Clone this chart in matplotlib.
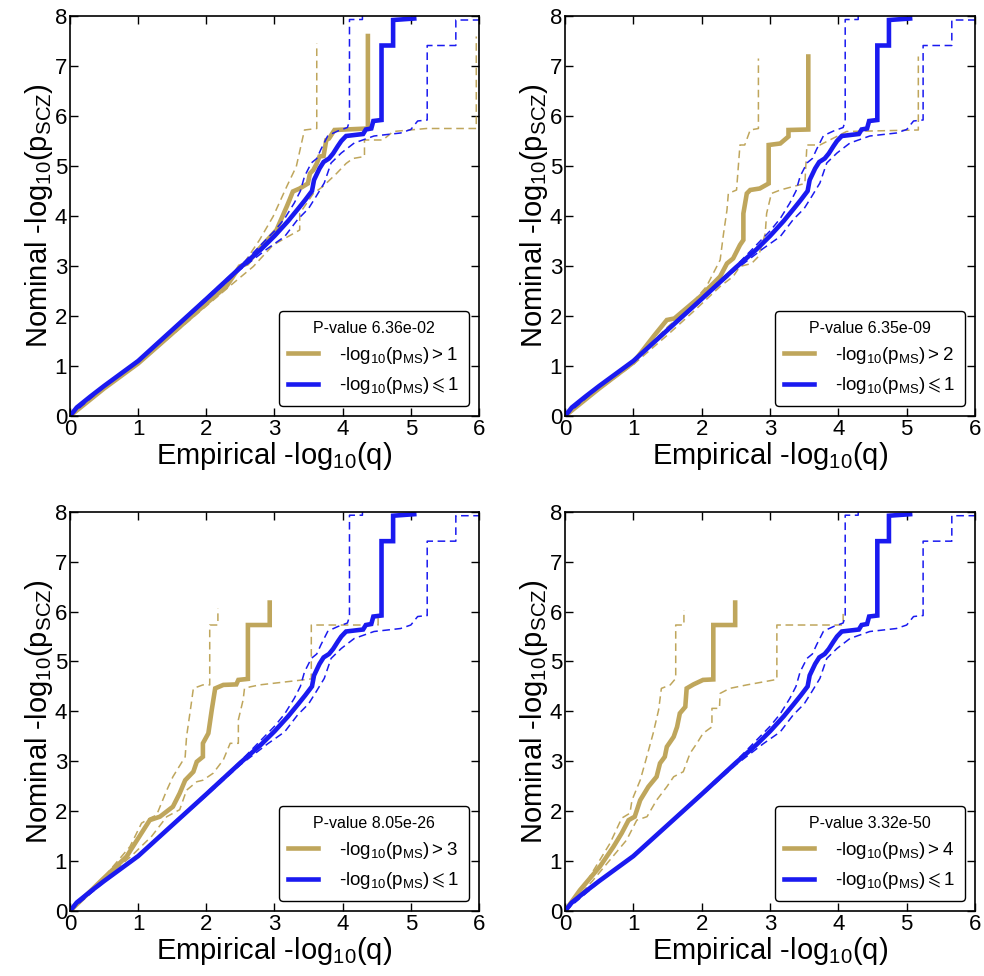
import matplotlib
matplotlib.use("Agg")
import matplotlib.pyplot as plt
from matplotlib.lines import Line2D

plt.rcParams['font.family'] = ['Liberation Sans', 'DejaVu Sans']
plt.rcParams['mathtext.fontset'] = 'custom'
plt.rcParams['mathtext.rm'] = 'Liberation Sans'
plt.rcParams['mathtext.it'] = 'Liberation Sans'
plt.rcParams['mathtext.default'] = 'regular'
plt.rcParams['mathtext.fallback'] = 'stix'

# ---------------- data ----------------
thresholds = [1, 2, 3, 4]
pvalues = ["6.36e-02", "6.35e-09", "8.05e-26", "3.32e-50"]

# blue: -log10(p_MS) <= 1 (same in all panels)
blue_x = [0, 0.1, 0.3, 0.5, 1.0, 1.5, 2.0, 2.5, 2.8, 3.0, 3.2, 3.35, 3.45, 3.55, 3.58, 3.66, 3.72, 3.80, 3.86,
          3.93, 3.98, 4.05, 4.30, 4.34, 4.42, 4.45, 4.57, 4.57, 4.74, 4.74, 5.05]
blue_y = [0, 0.17, 0.39, 0.6, 1.1, 1.72, 2.34, 2.97, 3.33, 3.6, 3.9, 4.15, 4.32, 4.5, 4.72, 4.95, 5.08, 5.15, 5.25,
          5.4, 5.5, 5.6, 5.64, 5.73, 5.75, 5.9, 5.92, 7.41, 7.41, 7.92, 7.95]
blue_up_x = [0, 0.5, 1.0, 1.5, 2.0, 2.5, 2.8, 3.0, 3.15, 3.29, 3.38, 3.44, 3.54, 3.62, 3.68, 3.78, 3.85, 3.93,
             4.07, 4.10, 4.10, 4.29, 4.29]
blue_up_y = [0, 0.61, 1.12, 1.74, 2.37, 3.0, 3.42, 3.7, 3.95, 4.26, 4.5, 4.79, 5.06, 5.15, 5.33, 5.6, 5.65, 5.7,
             5.77, 5.9, 7.93, 7.93, 8.5]
blue_lo_x = [0, 0.5, 1.0, 1.5, 2.0, 2.5, 2.9, 3.15, 3.34, 3.5, 3.61, 3.73, 3.83, 3.98, 4.17, 4.46, 4.85, 5.0,
             5.1, 5.24, 5.24, 5.66, 5.66, 6.2]
blue_lo_y = [0, 0.58, 1.08, 1.7, 2.31, 2.93, 3.35, 3.59, 3.93, 4.15, 4.39, 4.66, 5.06, 5.26, 5.46, 5.6, 5.66,
             5.73, 5.9, 5.92, 7.41, 7.41, 7.92, 7.92]

# gold: -log10(p_MS) > threshold, one set per panel
gold_x = [
    [0, 0.5, 1.0, 1.5, 2.0, 2.3, 2.49, 2.6, 2.78, 3.03, 3.18, 3.22, 3.27, 3.37, 3.49, 3.52, 3.57, 3.62, 3.66,
     3.72, 3.76, 3.80, 3.88, 4.37, 4.37],
    [0, 0.5, 1.0, 1.3, 1.49, 1.6, 1.98, 2.27, 2.37, 2.46, 2.56, 2.61, 2.61, 2.66, 2.71, 2.85, 2.98, 2.98, 3.15,
     3.27, 3.27, 3.56, 3.56],
    [0, 0.49, 0.83, 1.03, 1.17, 1.32, 1.51, 1.61, 1.69, 1.81, 1.86, 1.95, 1.95, 2.03, 2.08, 2.13, 2.25, 2.44,
     2.47, 2.61, 2.61, 2.93, 2.93],
    [0, 0.22, 0.51, 0.71, 0.83, 0.93, 1.02, 1.10, 1.22, 1.34, 1.39, 1.46, 1.49, 1.59, 1.64, 1.68, 1.76, 1.78,
     1.88, 2.02, 2.17, 2.17, 2.49, 2.49],
]
gold_y = [
    [0, 0.55, 1.05, 1.65, 2.25, 2.6, 2.99, 3.05, 3.35, 3.72, 4.19, 4.32, 4.49, 4.55, 4.65, 4.85, 4.92, 5.05, 5.19,
     5.2, 5.52, 5.55, 5.72, 5.75, 7.6],
    [0, 0.55, 1.07, 1.6, 1.92, 1.95, 2.39, 2.79, 3.05, 3.15, 3.42, 3.52, 4.05, 4.45, 4.52, 4.55, 4.65, 5.42, 5.45,
     5.59, 5.72, 5.73, 7.19],
    [0, 0.65, 1.09, 1.52, 1.82, 1.89, 2.09, 2.36, 2.62, 2.79, 2.99, 3.09, 3.36, 3.56, 4.03, 4.46, 4.53, 4.54,
     4.63, 4.65, 5.73, 5.73, 6.18],
    [0, 0.42, 0.89, 1.29, 1.56, 1.82, 1.89, 2.22, 2.49, 2.69, 2.96, 3.09, 3.29, 3.49, 3.69, 3.96, 4.09, 4.46,
     4.54, 4.63, 4.64, 5.73, 5.73, 6.18],
]
gold_up_x = [
    [0, 0.5, 1.0, 1.5, 2.0, 2.5, 2.78, 2.98, 3.18, 3.32, 3.44, 3.62, 3.62],
    [0, 0.5, 1.0, 1.5, 1.73, 2.07, 2.27, 2.32, 2.37, 2.39, 2.51, 2.56, 2.63, 2.71, 2.83, 2.83],
    [0, 0.5, 0.88, 1.05, 1.17, 1.27, 1.42, 1.51, 1.69, 1.71, 1.78, 1.81, 1.95, 2.05, 2.05, 2.17, 2.17],
    [0, 0.3, 0.66, 0.83, 0.95, 0.98, 1.10, 1.17, 1.25, 1.29, 1.37, 1.41, 1.54, 1.62, 1.62, 1.74, 1.74],
]
gold_up_y = [
    [0, 0.57, 1.07, 1.68, 2.28, 2.95, 3.52, 3.99, 4.59, 4.99, 5.72, 5.75, 7.45],
    [0, 0.57, 1.1, 1.78, 2.05, 2.59, 3.12, 3.65, 4.12, 4.45, 4.52, 5.42, 5.42, 5.72, 5.75, 7.15],
    [0, 0.68, 1.29, 1.76, 1.86, 1.92, 2.42, 2.69, 3.09, 3.49, 4.16, 4.46, 4.53, 4.53, 5.73, 5.73, 6.06],
    [0, 0.55, 1.36, 1.86, 1.96, 2.22, 2.62, 2.96, 3.36, 3.56, 4.03, 4.46, 4.53, 4.66, 5.73, 5.73, 6.03],
]
gold_lo_x = [
    [0, 0.5, 1.0, 1.5, 2.0, 2.39, 2.69, 2.98, 3.37, 3.37, 3.57, 3.71, 3.91, 4.05, 4.15, 4.32, 4.32, 4.59, 4.74,
     5.23, 5.96, 5.96],
    [0, 0.5, 1.0, 1.5, 1.88, 2.27, 2.46, 2.56, 2.73, 2.83, 2.93, 2.95, 3.02, 3.15, 3.34, 3.51, 3.54, 3.73, 4.12,
     5.17, 5.17],
    [0, 0.5, 0.9, 1.2, 1.42, 1.61, 1.71, 1.86, 1.95, 2.10, 2.25, 2.35, 2.47, 2.47, 2.54, 2.56, 2.64, 2.78, 3.54,
     3.54, 4.52, 4.52],
    [0, 0.4, 0.90, 1.05, 1.20, 1.34, 1.49, 1.59, 1.73, 1.83, 1.93, 2.02, 2.15, 2.15, 2.26, 2.27, 2.41, 2.66, 3.10,
     3.10, 4.07, 4.07],
]
gold_lo_y = [
    [0, 0.54, 1.03, 1.62, 2.2, 2.65, 2.99, 3.42, 3.72, 4.05, 4.45, 4.59, 4.85, 5.05, 5.15, 5.19, 5.52, 5.52, 5.69,
     5.75, 5.75, 7.59],
    [0, 0.53, 1.03, 1.62, 2.09, 2.59, 2.79, 2.99, 3.05, 3.19, 3.65, 4.05, 4.45, 4.52, 4.59, 4.65, 5.42, 5.42, 5.69,
     5.72, 7.19],
    [0, 0.64, 1.1, 1.5, 1.89, 2.03, 2.42, 2.59, 2.62, 2.76, 3.03, 3.36, 3.36, 3.83, 4.23, 4.46, 4.49, 4.53, 4.65,
     5.73, 5.73, 5.9],
    [0, 0.6, 1.42, 1.82, 1.89, 2.22, 2.49, 2.69, 2.79, 3.16, 3.36, 3.56, 3.69, 4.06, 4.06, 4.36, 4.46, 4.53, 4.64,
     5.73, 5.73, 5.97],
]

xticks = [0, 1, 2, 3, 4, 5, 6]
yticks = [0, 1, 2, 3, 4, 5, 6, 7, 8]

GOLD = '#bfa65c'
BLUE = '#1a1af0'

fig = plt.figure(figsize=(9.84, 9.76), dpi=100)
positions = [
    [0.0711, 0.5738, 0.4157, 0.4098],
    [0.5742, 0.5738, 0.4167, 0.4098],
    [0.0711, 0.0666, 0.4157, 0.4091],
    [0.5742, 0.0666, 0.4167, 0.4091],
]

for i in range(4):
    ax = fig.add_axes(positions[i])
    ax.plot(gold_up_x[i], gold_up_y[i], color=GOLD, lw=1.1, ls=(0, (5, 3)))
    ax.plot(gold_lo_x[i], gold_lo_y[i], color=GOLD, lw=1.1, ls=(0, (5, 3)))
    ax.plot(gold_x[i], gold_y[i], color=GOLD, lw=3.3, solid_joinstyle='miter')
    ax.plot(blue_up_x, blue_up_y, color=BLUE, lw=1.1, ls=(0, (5, 3)))
    ax.plot(blue_lo_x, blue_lo_y, color=BLUE, lw=1.1, ls=(0, (5, 3)))
    ax.plot(blue_x, blue_y, color=BLUE, lw=3.3, solid_joinstyle='miter')

    ax.set_xlim(0, 6)
    ax.set_ylim(0, 8)
    ax.set_xticks(xticks)
    ax.set_yticks(yticks)
    ax.tick_params(direction='in', top=True, right=True, length=6, width=1, labelsize=16, pad=2)
    for s in ax.spines.values():
        s.set_linewidth(1.2)
    ax.set_xlabel('Empirical -log$_{10}$(q)', fontsize=21, labelpad=0)
    ax.set_ylabel('Nominal -log$_{10}$(p$_{SCZ}$)', fontsize=21, labelpad=0)

    handles = [Line2D([], [], color=GOLD, lw=3.3), Line2D([], [], color=BLUE, lw=3.3)]
    labels = ['-log$_{10}$(p$_{MS}$)$>$%d' % thresholds[i], r'-log$_{10}$(p$_{MS}$)$\leqslant$1']
    leg = ax.legend(handles, labels, loc='lower right', title='P-value ' + pvalues[i],
                    title_fontsize=11.5, fontsize=13.5, handlelength=1.6, handletextpad=1.1,
                    borderaxespad=0.55, fancybox=True, framealpha=1, edgecolor='black',
                    borderpad=0.5, labelspacing=0.5)
    leg.get_frame().set_linewidth(1.0)

fig.savefig('out.png', dpi=100)
